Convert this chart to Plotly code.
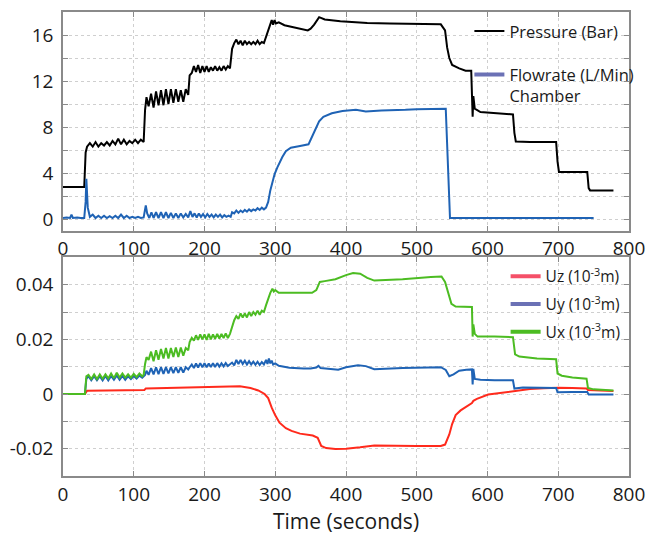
import plotly.graph_objects as go
from plotly.subplots import make_subplots

# ---------------- Top panel data ----------------
pressure_t = [0, 30, 32, 34,
              38, 42, 46, 50, 54, 58, 62, 66, 70, 74, 78, 82, 86, 90, 94, 98, 102, 106, 110, 114,
              116, 118,
              121, 124.5, 128, 131.5, 135, 138.5, 142, 145.5, 149, 152.5, 156, 159.5, 163, 166.5, 170, 173.5, 177,
              179, 182, 185, 188, 191, 194, 197, 200, 203, 206, 209, 212, 215, 218, 221, 224, 227, 230, 233, 236,
              239, 242, 245, 248, 251, 254, 257, 260, 263, 266, 269, 272, 275, 278, 281, 284,
              287, 290, 293, 295, 297, 299, 301, 305, 313, 330, 346, 350, 355, 362, 370, 392, 430, 462, 500, 534,
              540, 543, 546, 550, 560, 569, 577, 578, 579, 580, 582, 590, 610, 636, 638, 640, 660, 697, 699, 701,
              720, 741, 743, 745, 760, 778]
pressure_v = [2.8, 2.8, 5.8, 6.3,
              6.6, 6.3, 6.7, 6.3, 6.6, 6.4, 6.7, 6.4, 6.8, 6.5, 7.0, 6.5, 6.9, 6.5, 6.8, 6.6, 6.9, 6.6, 6.9, 6.7,
              9.5, 10.6,
              9.8, 10.9, 9.7, 11.1, 9.9, 11.2, 9.9, 11.3, 10.0, 11.3, 10.1, 11.3, 10.2, 11.2, 10.2, 11.3, 10.8,
              12.5, 12.7, 13.3, 12.8, 13.4, 12.7, 13.3, 12.8, 13.3, 12.8, 13.2, 12.9, 13.3, 12.9, 13.2, 12.9, 13.3, 13.0, 13.3, 13.1,
              14.8, 15.3, 15.6, 15.2, 15.5, 15.1, 15.5, 15.2, 15.4, 15.2, 15.4, 15.2, 15.5, 15.2, 15.4, 15.3,
              15.9, 16.4, 17.0, 17.3, 16.9, 17.3, 17.0, 17.1, 16.85, 16.6, 16.4, 16.55, 16.9, 17.55, 17.35, 17.2, 17.05, 17.0, 16.95, 16.93,
              16.4, 14.9, 14.0, 13.4, 13.1, 12.9, 12.9, 9.6, 8.9, 10.7, 9.6, 9.3, 9.2, 9.1, 7.5, 6.75, 6.7, 6.7, 5.0, 4.1,
              4.1, 4.1, 2.7, 2.5, 2.5, 2.5]

flow_t = [0, 5, 10, 12, 14, 20, 25, 30, 32, 33, 35, 38,
          42, 46, 50, 54, 58, 62, 66, 70, 74, 78, 82, 86, 90, 94, 98, 102, 106, 110, 114,
          117, 119, 122, 125, 128, 131.5, 135, 138.5, 142, 145.5, 149, 152.5, 156, 159.5, 163, 166.5, 170, 173.5, 177,
          180, 183, 186, 189, 192, 195, 198, 201, 204, 207, 210, 213, 216, 219, 222, 225, 228, 231, 234, 237,
          239, 242, 245, 248, 251, 254, 257, 260, 263, 266, 269, 272, 275, 278, 281, 284,
          287, 290, 293, 296, 299, 303, 306, 310, 315, 322, 335, 347, 350, 353, 357, 362, 368, 380, 395, 414,
          428, 450, 484, 500, 541, 547, 560, 600, 650, 700, 750]
flow_v = [0.1, 0.15, 0.1, 0.4, 0.1, 0.15, 0.1, 0.1, 1.5, 3.5, 1.0, 0.2,
          0.4, 0.1, 0.3, 0.1, 0.3, 0.1, 0.25, 0.1, 0.3, 0.1, 0.4, 0.1, 0.3, 0.1, 0.2, 0.1, 0.2, 0.1, 0.15,
          1.2, 0.5, 0.1, 0.6, 0.1, 0.6, 0.1, 0.6, 0.1, 0.6, 0.1, 0.55, 0.1, 0.5, 0.1, 0.5, 0.15, 0.45, 0.15,
          0.7, 0.2, 0.5, 0.15, 0.5, 0.2, 0.45, 0.15, 0.45, 0.2, 0.4, 0.15, 0.4, 0.2, 0.4, 0.15, 0.35, 0.2, 0.3, 0.2,
          0.6, 0.5, 0.75, 0.55, 0.75, 0.6, 0.8, 0.65, 0.85, 0.7, 0.85, 0.75, 0.95, 0.8, 1.0, 0.85,
          1.0, 1.5, 2.5, 3.3, 3.9, 4.5, 4.9, 5.4, 5.9, 6.2, 6.35, 6.5, 6.9, 7.3, 7.8, 8.5, 8.9, 9.2, 9.4, 9.5,
          9.35, 9.45, 9.5, 9.55, 9.6, 0.1, 0.1, 0.1, 0.1, 0.1, 0.1]

# ---------------- Bottom panel data ----------------
ux_t = [0, 31, 33,
        36, 40, 44, 48, 52, 56, 60, 64, 68, 72, 76, 80, 84, 88, 92, 96, 100, 104, 108, 112, 114,
        116, 118, 121, 124.5, 128, 131.5, 135, 138.5, 142, 145.5, 149, 152.5, 156, 159.5, 163, 166.5, 170, 173.5, 177,
        179, 182, 185, 188, 191, 194, 197, 200, 203, 206, 209, 212, 215, 218, 221, 224, 227, 230, 233, 236,
        239, 242, 245, 248, 251, 254, 257, 260, 263, 266, 269, 272, 275, 278, 281, 284,
        287, 290, 293, 296, 298, 300, 305, 320, 340, 352, 358, 363, 370, 385, 400, 410, 420, 430, 440, 480,
        520, 535, 540, 545, 549, 555, 570, 578, 579, 580, 582, 586, 610, 636, 639, 645, 670, 697, 699, 705,
        720, 740, 742, 750, 778]
ux_v = [0, 0, 0.0065,
        0.007, 0.0055, 0.0072, 0.0055, 0.0072, 0.0056, 0.0072, 0.0057, 0.0075, 0.0058, 0.0078, 0.006, 0.0075, 0.006, 0.0072, 0.006, 0.0074, 0.0062, 0.0075, 0.0065, 0.007,
        0.011, 0.0135, 0.0125, 0.0155, 0.012, 0.016, 0.0125, 0.0165, 0.013, 0.0168, 0.013, 0.0168, 0.0135, 0.017, 0.0135, 0.017, 0.014, 0.0168, 0.016,
        0.019, 0.0205, 0.0195, 0.0215, 0.0198, 0.0218, 0.020, 0.0218, 0.0198, 0.022, 0.020, 0.0218, 0.0202, 0.022, 0.0203, 0.022, 0.0205, 0.0222, 0.0205, 0.022,
        0.025, 0.027, 0.0285, 0.0275, 0.0295, 0.028, 0.0295, 0.028, 0.030, 0.0285, 0.030, 0.029, 0.0305, 0.029, 0.0305, 0.030,
        0.0325, 0.035, 0.037, 0.0385, 0.0375, 0.038, 0.037, 0.037, 0.037, 0.037, 0.038, 0.041, 0.0413, 0.042, 0.0435, 0.0443, 0.044, 0.0425, 0.0415, 0.042,
        0.0428, 0.043, 0.041, 0.036, 0.033, 0.032, 0.032, 0.0318, 0.021, 0.0255, 0.022, 0.021, 0.021, 0.0208, 0.0145, 0.0137, 0.013, 0.0127, 0.0075, 0.0067,
        0.006, 0.0056, 0.0022, 0.0017, 0.0013]

uy_t = [0, 31, 33,
        36, 40, 44, 48, 52, 56, 60, 64, 68, 72, 76, 80, 84, 88, 92, 96, 100, 104, 108, 112, 114,
        116, 118, 121, 124.5, 128, 131.5, 135, 138.5, 142, 145.5, 149, 152.5, 156, 159.5, 163, 166.5, 170, 173.5, 177,
        179, 182, 185, 188, 191, 194, 197, 200, 203, 206, 209, 212, 215, 218, 221, 224, 227, 230, 233, 236,
        239, 242, 245, 248, 251, 254, 257, 260, 263, 266, 269, 272, 275, 278, 281, 284,
        287, 289, 291, 293, 295, 297, 300, 305, 320, 340, 350, 358, 361, 364, 375, 389, 400, 417, 428, 440,
        480, 534, 541, 546, 552, 560, 570, 578, 579, 580, 582, 590, 610, 636, 638, 650, 697, 699, 720, 741,
        743, 760, 778]
uy_v = [0, 0, 0.0055,
        0.0065, 0.005, 0.0065, 0.005, 0.0065, 0.005, 0.0066, 0.005, 0.0066, 0.0052, 0.0068, 0.0052, 0.0066, 0.0052, 0.0065, 0.0055, 0.0066, 0.0056, 0.0067, 0.006, 0.0065,
        0.007, 0.0085, 0.007, 0.0095, 0.0072, 0.0098, 0.0073, 0.0098, 0.0074, 0.0098, 0.0075, 0.0098, 0.0076, 0.0098, 0.0077, 0.0098, 0.0078, 0.0098, 0.009,
        0.0098, 0.0108, 0.0095, 0.0112, 0.0097, 0.0113, 0.0098, 0.0113, 0.0098, 0.0112, 0.0099, 0.0113, 0.0099, 0.0113, 0.010, 0.0112, 0.0101, 0.0113, 0.0102, 0.011,
        0.0115, 0.0105, 0.0125, 0.011, 0.0125, 0.011, 0.0122, 0.0108, 0.012, 0.0108, 0.0118, 0.0107, 0.0118, 0.0106, 0.0117, 0.0108,
        0.0125, 0.011, 0.013, 0.0112, 0.0122, 0.0108, 0.0112, 0.0103, 0.0096, 0.0093, 0.0093, 0.0097, 0.0103, 0.0095, 0.0092, 0.0089, 0.0098, 0.0105, 0.0102, 0.0091,
        0.0095, 0.0098, 0.0088, 0.0065, 0.0072, 0.0085, 0.0089, 0.009, 0.0035, 0.0092, 0.0055, 0.0052, 0.005, 0.005, 0.002, 0.0024, 0.0022, 0.0006, 0.0007, 0.0007,
        -0.0002, -0.0002, -0.0002]

uz_t = [0, 31, 34, 60, 100, 115, 117, 150, 200, 220, 238, 250, 265, 276, 285, 290, 295, 300, 306, 315,
        323, 335, 353, 360, 365, 372, 385, 400, 420, 440, 500, 534, 540, 546, 550, 555, 562, 569, 578, 580,
        585, 601, 620, 640, 660, 680, 700, 720, 740, 742, 778]
uz_v = [0, 0, 0.0012, 0.0013, 0.0015, 0.0015, 0.002, 0.0022, 0.0025, 0.0028, 0.003, 0.0028, 0.0022, 0.0013, 0.0, -0.0015, -0.005, -0.0078, -0.0105, -0.0125,
        -0.0135, -0.0145, -0.0152, -0.016, -0.019, -0.0198, -0.0201, -0.02, -0.0195, -0.0188, -0.019, -0.019, -0.0185, -0.0148, -0.011, -0.0077, -0.006, -0.0047, -0.0033, -0.0025,
        -0.0018, -0.0002, 0.0005, 0.0012, 0.0018, 0.0021, 0.0023, 0.0022, 0.002, 0.0015, 0.0011]

x_ticks = [0, 100, 200, 300, 400, 500, 600, 700, 800]
top_tickvals = [0, 2, 4, 6, 8, 10, 12, 14, 16]
top_ticktext = ["0", "", "4", "", "8", "", "12", "", "16"]
bot_tickvals = [-0.02, -0.01, 0, 0.01, 0.02, 0.03, 0.04]
bot_ticktext = ["-0.02", "", "0", "", "0.02", "", "0.04"]

FONT = "Open Sans"
FRAME = "#8a8a8a"
GRID = "#cfcfcf"
TXT = "#1a1a1a"

fig = make_subplots(rows=2, cols=1, vertical_spacing=0.0575)

fig.add_trace(go.Scatter(x=pressure_t, y=pressure_v, mode="lines",
                         line=dict(color="#000000", width=2), showlegend=False), row=1, col=1)
fig.add_trace(go.Scatter(x=flow_t, y=flow_v, mode="lines",
                         line=dict(color="#1f63b5", width=2), showlegend=False), row=1, col=1)
# legend entries (top)
fig.add_trace(go.Scatter(x=[None], y=[None], mode="lines", name="Pressure (Bar)",
                         line=dict(color="#000000", width=2), legend="legend", legendgroup="p"), row=1, col=1)
fig.add_trace(go.Scatter(x=[None], y=[None], mode="lines", name="Flowrate (L/Min)<br>Chamber",
                         line=dict(color="#6b71b5", width=4), legend="legend", legendgroup="f"), row=1, col=1)

fig.add_trace(go.Scatter(x=uz_t, y=uz_v, mode="lines",
                         line=dict(color="#ff2a1c", width=2), showlegend=False), row=2, col=1)
fig.add_trace(go.Scatter(x=uy_t, y=uy_v, mode="lines",
                         line=dict(color="#1f63b5", width=2), showlegend=False), row=2, col=1)
fig.add_trace(go.Scatter(x=ux_t, y=ux_v, mode="lines",
                         line=dict(color="#4cbc22", width=2), showlegend=False), row=2, col=1)
# legend entries (bottom)
fig.add_trace(go.Scatter(x=[None], y=[None], mode="lines", name="Uz (10<sup>-3</sup>m)",
                         line=dict(color="#f55068", width=4), legend="legend2", legendgroup="z"), row=2, col=1)
fig.add_trace(go.Scatter(x=[None], y=[None], mode="lines", name="Uy (10<sup>-3</sup>m)",
                         line=dict(color="#6b71b5", width=4), legend="legend2", legendgroup="y"), row=2, col=1)
fig.add_trace(go.Scatter(x=[None], y=[None], mode="lines", name="Ux (10<sup>-3</sup>m)",
                         line=dict(color="#4cbc22", width=4), legend="legend2", legendgroup="x"), row=2, col=1)

axis_common = dict(showline=True, linecolor=FRAME, linewidth=1.5, mirror="ticks",
                   ticks="inside", ticklen=5, tickcolor=FRAME, tickwidth=1,
                   showgrid=True, gridcolor=GRID, griddash="dot", gridwidth=1,
                   zeroline=False, tickfont=dict(family=FONT, size=19, color=TXT))

for r in (1, 2):
    fig.update_xaxes(range=[0, 800], tickvals=x_ticks, **axis_common, row=r, col=1)
fig.update_xaxes(title=dict(text="Time (seconds)", font=dict(family=FONT, size=21, color=TXT),
                            standoff=4), row=2, col=1)
fig.update_yaxes(range=[-1, 18], tickvals=top_tickvals, ticktext=top_ticktext,
                 ticklabelstandoff=4, **axis_common, row=1, col=1)
fig.update_yaxes(range=[-0.03, 0.05], tickvals=bot_tickvals, ticktext=bot_ticktext,
                 ticklabelstandoff=4, **axis_common, row=2, col=1)

fig.update_layout(
    width=655, height=535,
    margin=dict(l=63, r=18, t=10, b=53),
    plot_bgcolor="white", paper_bgcolor="white",
    font=dict(family=FONT, color=TXT),
    legend=dict(x=0.718, y=0.996, xanchor="left", yanchor="top", bgcolor="rgba(0,0,0,0)",
                traceorder="grouped", tracegroupgap=19, valign="top",
                font=dict(family=FONT, size=16.5, color=TXT), itemwidth=30),
    legend2=dict(x=0.782, y=0.466, xanchor="left", yanchor="top", bgcolor="rgba(0,0,0,0)",
                 traceorder="grouped", tracegroupgap=4.5,
                 font=dict(family=FONT, size=15.5, color=TXT), itemwidth=30),
)

fig.write_html("out.html")
